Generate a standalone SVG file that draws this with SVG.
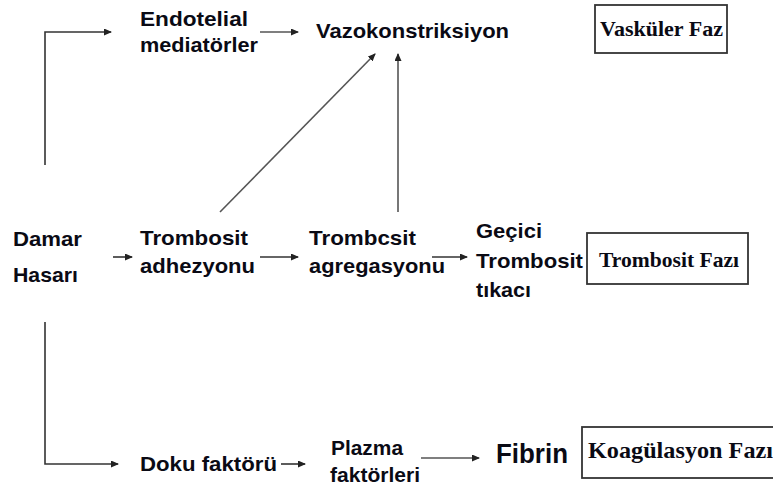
<svg xmlns="http://www.w3.org/2000/svg" width="773" height="486" viewBox="0 0 773 486">
<defs>
<marker id="ah" markerUnits="userSpaceOnUse" markerWidth="8" markerHeight="7" refX="7" refY="3.5" orient="auto">
<path d="M0,0 L8,3.5 L0,7 Z" fill="#222"/>
</marker>
<style>
.t{font-family:"Liberation Sans",Arial,sans-serif;font-weight:bold;font-size:21px;fill:#0a0a14}
.s{font-family:"Liberation Serif","Times New Roman",serif;font-weight:bold;font-size:22px;fill:#0a0a14}
.c{fill:none;stroke:#555;stroke-width:1.6}
.d{fill:none;stroke:#333;stroke-width:1.6}
.b{fill:#fff;stroke:#333;stroke-width:1.8}
</style>
</defs>
<rect width="773" height="486" fill="#fff"/>
<g id="connectors">
<path class="d" d="M45,165 V32 H111" marker-end="url(#ah)"/>
<path class="d" d="M45,322 V464 H118" marker-end="url(#ah)"/>
<path class="c" d="M260,32 H298" marker-end="url(#ah)"/>
<path class="c" d="M220,212 L375,54" marker-end="url(#ah)"/>
<path class="c" d="M398,212 V54" marker-end="url(#ah)"/>
<path class="d" d="M113,257 H132" marker-end="url(#ah)"/>
<path class="d" d="M260,257 H298" marker-end="url(#ah)"/>
<path class="d" d="M432,257 H467" marker-end="url(#ah)"/>
<path class="d" d="M281,464 H305" marker-end="url(#ah)"/>
<path class="c" d="M421,458 H479" marker-end="url(#ah)"/>
</g>
<g id="endotelial">
<text class="t" x="140" y="26" textLength="108" lengthAdjust="spacingAndGlyphs">Endotelial</text>
<text class="t" x="140" y="52" textLength="118" lengthAdjust="spacingAndGlyphs">mediatörler</text>
</g>
<g id="vazokonstriksiyon">
<text class="t" x="316" y="38" textLength="193" lengthAdjust="spacingAndGlyphs">Vazokonstriksiyon</text>
</g>
<g id="vaskuler-faz">
<rect class="b" x="595" y="5" width="132" height="48"/>
<text class="s" x="600" y="36" textLength="123" lengthAdjust="spacingAndGlyphs">Vasküler Faz</text>
</g>
<g id="damar-hasari">
<text class="t" x="13" y="246" textLength="69" lengthAdjust="spacingAndGlyphs">Damar</text>
<text class="t" x="13" y="282" textLength="65" lengthAdjust="spacingAndGlyphs">Hasarı</text>
</g>
<g id="trombosit-adhezyonu">
<text class="t" x="140" y="245" textLength="108" lengthAdjust="spacingAndGlyphs">Trombosit</text>
<text class="t" x="140" y="273" textLength="115" lengthAdjust="spacingAndGlyphs">adhezyonu</text>
</g>
<g id="trombosit-agregasyonu">
<text class="t" x="309" y="245" textLength="107" lengthAdjust="spacingAndGlyphs">Trombcsit</text>
<text class="t" x="309" y="273" textLength="136" lengthAdjust="spacingAndGlyphs">agregasyonu</text>
</g>
<g id="gecici-trombosit-tikaci">
<text class="t" x="476" y="238" textLength="66" lengthAdjust="spacingAndGlyphs">Geçici</text>
<text class="t" x="476" y="268" textLength="107" lengthAdjust="spacingAndGlyphs">Trombosit</text>
<text class="t" x="476" y="297" textLength="55" lengthAdjust="spacingAndGlyphs">tıkacı</text>
</g>
<g id="trombosit-fazi">
<rect class="b" x="587" y="233" width="161" height="51"/>
<text class="s" x="599" y="267" textLength="140" lengthAdjust="spacingAndGlyphs">Trombosit Fazı</text>
</g>
<g id="doku-faktoru">
<text class="t" x="140" y="471" textLength="137" lengthAdjust="spacingAndGlyphs">Doku faktörü</text>
</g>
<g id="plazma-faktorleri">
<text class="t" x="331" y="455" textLength="72" lengthAdjust="spacingAndGlyphs">Plazma</text>
<text class="t" x="330" y="482" textLength="90" lengthAdjust="spacingAndGlyphs">faktörleri</text>
</g>
<g id="fibrin">
<text class="t" x="496" y="463" style="font-size:27px" textLength="72" lengthAdjust="spacingAndGlyphs">Fibrin</text>
</g>
<g id="koagulasyon-fazi">
<rect class="b" x="582" y="427" width="195" height="51"/>
<text class="s" x="588" y="458" style="font-size:24px" textLength="185" lengthAdjust="spacingAndGlyphs">Koagülasyon Fazı</text>
</g>
</svg>
